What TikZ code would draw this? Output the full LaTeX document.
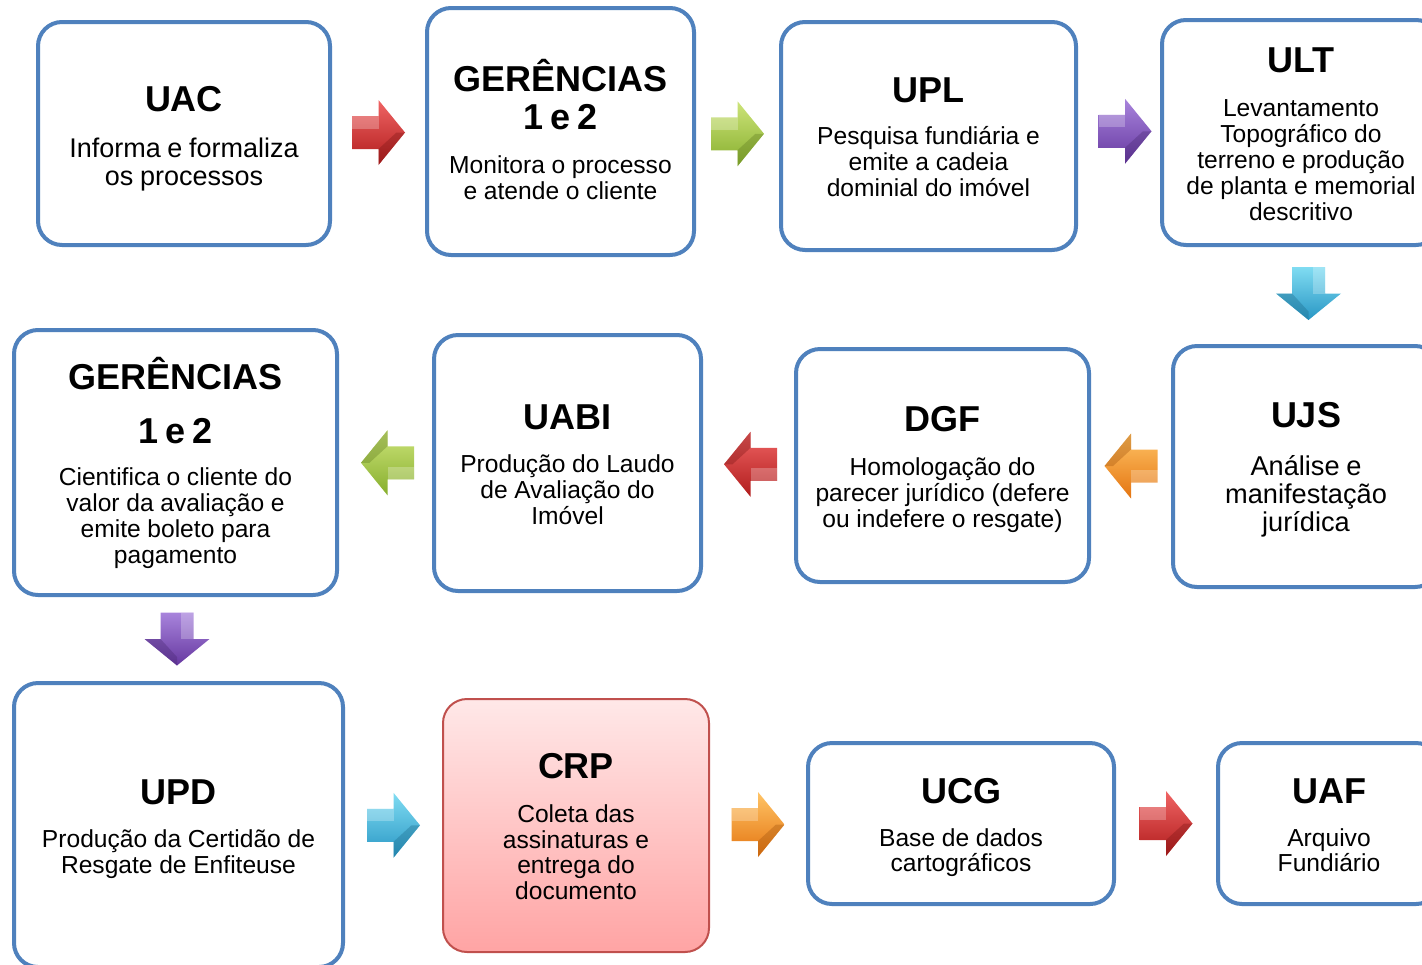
\documentclass[tikz,border=0pt]{standalone}
\usepackage{fontspec}
\setmainfont{Liberation Sans}
\usetikzlibrary{calc}
\definecolor{boxblue}{HTML}{4F81BD}
\definecolor{crpred}{HTML}{C0504D}
\definecolor{crptop}{HTML}{FFE8E8}
\definecolor{crpbot}{HTML}{FFA4A4}
\definecolor{redL}{HTML}{F06464}
\definecolor{redD}{HTML}{B01C1C}
\definecolor{greenL}{HTML}{CDE47A}
\definecolor{greenD}{HTML}{86AE2C}
\definecolor{purpleL}{HTML}{A884DC}
\definecolor{purpleD}{HTML}{6638A0}
\definecolor{cyanL}{HTML}{80DCF2}
\definecolor{cyanD}{HTML}{2896C4}
\definecolor{orangeL}{HTML}{FFC466}
\definecolor{orangeD}{HTML}{E47410}
\newcommand\ttl{\fontsize{18}{19}\selectfont\bfseries}
\newcommand\bxt[6]{{\ttl #1\par}\vskip#3pt{\fontsize{#4}{#5}\selectfont #2\par}\kern-#6pt\relax}
\begin{document}
\begin{tikzpicture}[x=0.5pt,y=-0.5pt,
  box/.style 2 args={draw=boxblue, line width=2pt, rounded corners=12pt, fill=white,
    inner sep=0pt, align=center, minimum width=#1, text width=#1, minimum height=#2},
  crpbox/.style={draw=crpred, line width=1pt, top color=crptop, bottom color=crpbot},
  pics/barrow/.style 2 args={code={
    \shade[top color=#1, bottom color=#2]
      (-26.5,-16.5)--(0,-16.5)--(0,-32.5)--(26.5,0)--(0,32.5)--(0,16.5)--(-26.5,16.5)--cycle;
    \fill[#2!70!black, opacity=0.35] (0,16.5)--(0,32.5)--(26.5,0)--(18,0)--cycle;
    \fill[white, opacity=0.25] (-26.5,-16.5)--(0,-16.5)--(0,-4)--(-26.5,-4)--cycle;
  }}]
\useasboundingbox (0,0) rectangle (1422,964);

% row 1
\node[box={146pt}{111.5pt}] (uac) at (184,133.5)
  {\bxt{UAC}{Informa e formaliza\\os processos}{9}{13.5}{14}{5}};
\node[box={133.5pt}{123.5pt}] (g1) at (560.5,131.5)
  {\bxt{GERÊNCIAS\\1 e 2}{Monitora o processo\\e atende o cliente}{9}{12.3}{13}{-2}};
\node[box={147.5pt}{114pt}] (upl) at (928.5,136)
  {\bxt{UPL}{Pesquisa fundiária e\\emite a cadeia\\dominial do imóvel}{8}{12.3}{13}{1}};
\node[box={139pt}{112.5pt}] (ult) at (1301,132.5)
  {\bxt{ULT}{Levantamento\\Topográfico do\\terreno e produção\\de planta e memorial\\descritivo}{9}{12.3}{13}{1.5}};

% row 2
\node[box={161.5pt}{132.5pt}] (g2) at (175.5,462.5)
  {\bxt{GERÊNCIAS\\[8pt]1 e 2}{Cientifica o cliente do\\valor da avaliação e\\emite boleto para\\pagamento}{8}{12.3}{13}{0}};
\node[box={133.5pt}{128pt}] (uabi) at (567.5,463)
  {\bxt{UABI}{Produção do Laudo\\de Avaliação do\\Imóvel}{8.5}{12.3}{13}{2}};
\node[box={146.5pt}{116.5pt}] (dgf) at (942.5,465.5)
  {\bxt{DGF}{Homologação do\\parecer jurídico (defere\\ou indefere o resgate)}{9}{12.3}{13}{3.5}};
\node[box={133pt}{120.5pt}] (ujs) at (1306,466.5)
  {\bxt{UJS}{Análise e\\manifestação\\jurídica}{10}{13.6}{14}{3.5}};

% row 3
\node[box={164.5pt}{142pt}] (upd) at (178.5,825)
  {\bxt{UPD}{Produção da Certidão de\\Resgate de Enfiteuse}{8.5}{12.3}{13}{4}};
\node[box={133pt}{126.5pt}, crpbox] (crp) at (576,825.5)
  {\bxt{CRP}{Coleta das\\assinaturas e\\entrega do\\documento}{9.3}{12.3}{12.7}{1}};
\node[box={153pt}{80.5pt}] (ucg) at (961,823.5)
  {\bxt{UCG}{Base de dados\\cartográficos}{9}{12.3}{12.5}{4}};
\node[box={111pt}{80.5pt}] (uaf) at (1329,823.5)
  {\bxt{UAF}{Arquivo\\Fundiário}{9}{12.3}{12.5}{1.5}};

% block arrows
\pic at ($(uac.east)!0.5!(g1.west)$) {barrow={redL}{redD}};
\pic at ($(g1.east)!0.5!(upl.west)$) {barrow={greenL}{greenD}};
\pic at ($(upl.east)!0.5!(ult.west)+(6,-3)$) {barrow={purpleL}{purpleD}};
\pic[rotate=-90] at ($(ult.south)!0.5!(ujs.north)+(5,-2)$) {barrow={cyanL}{cyanD}};
\pic[rotate=180] at ($(ujs.west)!0.5!(dgf.east)$) {barrow={orangeL}{orangeD}};
\pic[rotate=180] at ($(dgf.west)!0.5!(uabi.east)+(2,0)$) {barrow={redL}{redD}};
\pic[rotate=180] at ($(uabi.west)!0.5!(g2.east)+(2,0)$) {barrow={greenL}{greenD}};
\pic[rotate=-90] at ($(g2.south)!0.5!(upd.north)$) {barrow={purpleL}{purpleD}};
\pic at ($(upd.east)!0.5!(crp.west)$) {barrow={cyanL}{cyanD}};
\pic at ($(crp.east)!0.5!(ucg.west)$) {barrow={orangeL}{orangeD}};
\pic at ($(ucg.east)!0.5!(uaf.west)$) {barrow={redL}{redD}};
\end{tikzpicture}
\end{document}
